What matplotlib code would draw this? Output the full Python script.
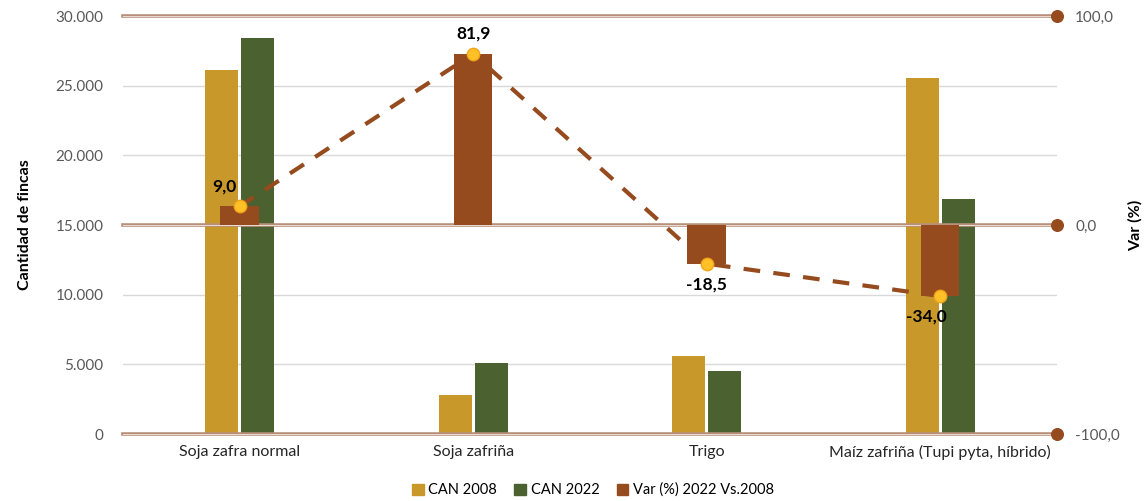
import matplotlib
matplotlib.use("Agg")
import matplotlib.pyplot as plt
import numpy as np
from matplotlib.patches import Patch

categories = ["Soja zafra normal", "Soja zafriña", "Trigo", "Maíz zafriña (Tupi pyta, híbrido)"]
can_2008 = [26100, 2800, 5600, 25550]
can_2022 = [28400, 5100, 4520, 16850]
var_pct = [9.0, 81.9, -18.5, -34.0]
var_labels = ["9,0", "81,9", "-18,5", "-34,0"]
left_ticks = [0, 5000, 10000, 15000, 20000, 25000, 30000]
right_ticks = [-100, 0, 100]

plt.rcParams['font.family'] = ['Lato', 'DejaVu Sans']

c2008 = '#C9982A'
c2022 = '#4B6130'
cvar = '#954B1E'
tick_col = '#595959'

fig = plt.figure(figsize=(11.47, 5.01), dpi=100)
ax = fig.add_axes([0.1072, 0.1337, 0.8143, 0.8343])
ax2 = ax.twinx()

x = np.arange(len(categories))
bw = 0.141
off = 0.077

ax.set_ylim(0, 30000)
ax.set_xlim(-0.5, len(categories) - 0.5)
ax2.set_ylim(-100, 100)

# gray gridlines
for t in left_ticks:
    if t in (0, 15000, 30000):
        continue
    ax.axhline(t, color='#d9d9d9', lw=1.0, zorder=0)

ax.bar(x - off, can_2008, width=bw, color=c2008, zorder=2)
ax.bar(x + off, can_2022, width=bw, color=c2022, zorder=2)

# brown double gridlines on secondary axis
for t in right_ticks:
    ax2.axhline(t, color='#b8907a', lw=2.6, zorder=1, clip_on=False)
    ax2.axhline(t, color='#eadbd2', lw=0.7, zorder=1, clip_on=False)
ax2.scatter([len(categories) - 0.5] * len(right_ticks), right_ticks, s=70,
            color=cvar, zorder=6, clip_on=False)

ax2.bar(x, var_pct, width=0.165, color=cvar, zorder=3)
ax2.plot(x, var_pct, color=cvar, lw=3, linestyle=(0, (4, 3.2)), zorder=4)
ax2.scatter(x, var_pct, s=80, color='#FFC125', edgecolor='#F2A51A', lw=1, zorder=5)

offsets = [(-11, 14), (0, 15), (0, -15), (-10, -15)]
for xi, v, lab, (dx, dy) in zip(x, var_pct, var_labels, offsets):
    ax2.annotate(lab, (xi, v), xytext=(dx, dy), textcoords='offset points',
                 ha='center', va='center', fontsize=12.5, fontweight='bold', color='black', zorder=7)

ax.set_yticks(left_ticks)
ax.set_yticklabels([f"{t:,}".replace(",", ".") for t in left_ticks])
ax2.set_yticks(right_ticks)
ax2.set_yticklabels([f"{t:.1f}".replace(".", ",") for t in right_ticks])
ax.set_xticks(x)
ax.set_xticklabels(categories)

for a in (ax, ax2):
    for s in a.spines.values():
        s.set_visible(False)
ax.tick_params(axis='y', length=0, labelsize=11, labelcolor=tick_col, pad=14)
ax2.tick_params(axis='y', length=0, labelsize=11, labelcolor=tick_col, pad=13)
ax.tick_params(axis='x', length=0, labelsize=11.5, labelcolor='#262626', pad=8)

ax.set_ylabel("Cantidad de fincas", fontsize=11.5, fontweight='bold', labelpad=17)
ax2.set_ylabel("Var (%)", fontsize=11.5, fontweight='bold', rotation=90, labelpad=6)

handles = [Patch(color=c2008, label='CAN 2008'), Patch(color=c2022, label='CAN 2022'),
           Patch(color=cvar, label='Var (%) 2022 Vs.2008')]
fig.legend(handles=handles, loc='center', bbox_to_anchor=(0.517, 0.022), ncol=3, frameon=False,
           fontsize=10.5, handlelength=0.8, handleheight=0.8, handletextpad=0.3, columnspacing=1.2)

fig.savefig("out.png", dpi=100)
